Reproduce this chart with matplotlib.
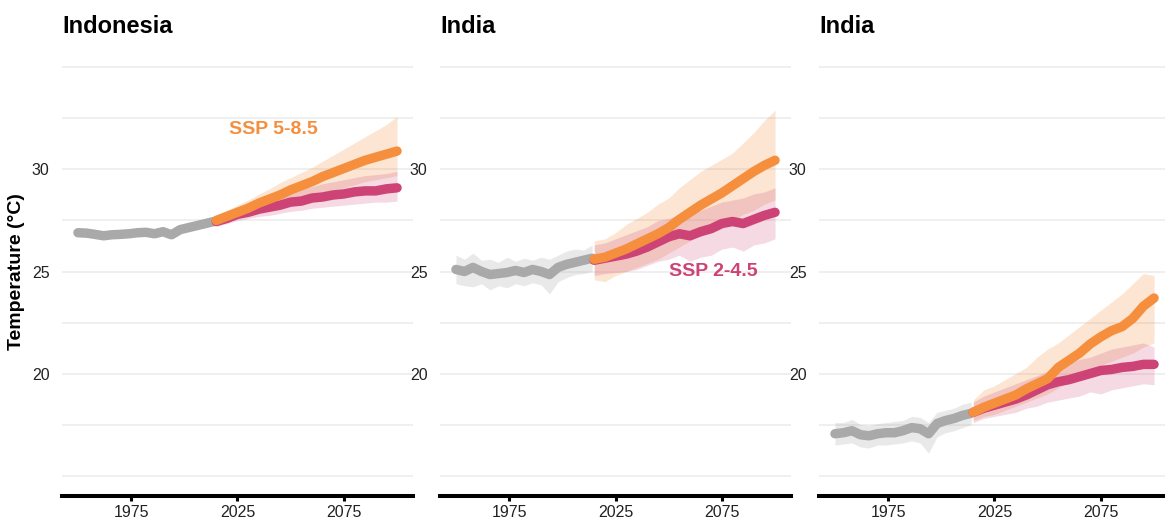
import numpy as np
import matplotlib
matplotlib.use("Agg")
from matplotlib import pyplot as plt

plt.rcParams['font.family'] = ['Liberation Sans', 'DejaVu Sans']

# years
hist_years = [1950, 1954, 1958, 1962, 1966, 1970, 1974, 1978, 1982,
              1986, 1990, 1994, 1998, 2002, 2006, 2010, 2014]
proj_years = [2015, 2020, 2025, 2030, 2035, 2040, 2045, 2050, 2055,
              2060, 2065, 2070, 2075, 2080, 2085, 2090, 2095, 2100]

titles = ["Indonesia", "India", "India"]

# panel 1 - Indonesia
idn_hist = [26.9, 26.88, 26.82, 26.75, 26.8, 26.82, 26.85, 26.9, 26.92,
            26.85, 26.95, 26.8, 27.05, 27.15, 27.25, 27.35, 27.45]
idn_hist_lo = [26.8, 26.78, 26.72, 26.65, 26.7, 26.72, 26.75, 26.8, 26.82,
               26.75, 26.85, 26.68, 26.95, 27.05, 27.15, 27.25, 27.35]
idn_hist_hi = [27.0, 26.98, 26.92, 26.85, 26.9, 26.92, 26.95, 27.0, 27.02,
               26.95, 27.05, 26.9, 27.15, 27.25, 27.35, 27.45, 27.55]
idn_245 = [27.45, 27.6, 27.8, 27.9, 28.05, 28.15, 28.25, 28.4, 28.45,
           28.6, 28.65, 28.75, 28.8, 28.9, 28.95, 28.95, 29.05, 29.1]
idn_245_lo = [27.2, 27.35, 27.5, 27.6, 27.7, 27.75, 27.85, 27.95, 28.0,
              28.1, 28.15, 28.2, 28.25, 28.3, 28.35, 28.4, 28.4, 28.45]
idn_245_hi = [27.7, 27.95, 28.1, 28.3, 28.45, 28.55, 28.75, 28.9, 29.05,
              29.15, 29.3, 29.4, 29.5, 29.6, 29.7, 29.75, 29.8, 29.9]
idn_585 = [27.5, 27.7, 27.9, 28.1, 28.35, 28.55, 28.75, 29.0, 29.2,
           29.4, 29.65, 29.85, 30.05, 30.25, 30.45, 30.6, 30.75, 30.9]
idn_585_lo = [27.3, 27.45, 27.6, 27.75, 27.9, 28.05, 28.2, 28.35, 28.5,
              28.65, 28.8, 28.95, 29.1, 29.25, 29.4, 29.5, 29.6, 29.7]
idn_585_hi = [27.75, 28.0, 28.25, 28.5, 28.8, 29.05, 29.35, 29.6, 29.85,
              30.1, 30.4, 30.7, 31.0, 31.3, 31.6, 31.9, 32.2, 32.6]

# panel 2 - India
ind_hist = [25.1, 25.0, 25.2, 25.0, 24.85, 24.9, 24.95, 25.05, 24.95,
            25.1, 25.0, 24.85, 25.2, 25.35, 25.45, 25.55, 25.65]
ind_hist_lo = [24.4, 24.3, 24.25, 24.4, 24.1, 24.3, 24.2, 24.4, 24.3,
               24.45, 24.35, 23.9, 24.5, 24.7, 24.85, 24.9, 25.0]
ind_hist_hi = [25.8, 25.6, 25.9, 25.55, 25.6, 25.45, 25.7, 25.5, 25.65,
               25.55, 25.7, 25.6, 25.8, 26.0, 26.1, 26.05, 26.3]
ind_245 = [25.55, 25.65, 25.75, 25.85, 26.0, 26.2, 26.45, 26.7, 26.85,
           26.75, 26.95, 27.1, 27.35, 27.45, 27.35, 27.55, 27.75, 27.9]
ind_245_lo = [24.8, 24.9, 24.95, 25.0, 25.1, 25.3, 25.5, 25.6, 25.8,
              25.5, 25.7, 25.8, 26.1, 26.2, 26.0, 26.3, 26.4, 26.6]
ind_245_hi = [26.3, 26.4, 26.6, 26.8, 27.0, 27.2, 27.5, 27.6, 27.8,
              27.9, 28.0, 28.2, 28.4, 28.5, 28.6, 28.8, 28.9, 29.1]
ind_585 = [25.6, 25.7, 25.9, 26.1, 26.35, 26.6, 26.85, 27.15, 27.55,
           27.9, 28.25, 28.55, 28.85, 29.2, 29.55, 29.9, 30.2, 30.45]
ind_585_lo = [24.6, 24.5, 24.8, 25.0, 25.2, 25.4, 25.6, 25.9, 26.2,
              26.5, 26.8, 27.0, 27.3, 27.5, 27.8, 28.0, 28.3, 28.5]
ind_585_hi = [26.5, 26.6, 26.9, 27.3, 27.6, 27.9, 28.3, 28.6, 29.1,
              29.5, 29.9, 30.2, 30.5, 30.8, 31.3, 31.8, 32.4, 32.9]

# panel 3 - India
ind2_hist = [17.05, 17.1, 17.2, 17.0, 16.95, 17.05, 17.1, 17.1, 17.2,
             17.35, 17.3, 17.05, 17.55, 17.7, 17.8, 17.95, 18.05]
ind2_hist_lo = [16.5, 16.55, 16.6, 16.4, 16.35, 16.5, 16.5, 16.55, 16.6,
                16.7, 16.6, 16.1, 16.9, 17.1, 17.2, 17.35, 17.5]
ind2_hist_hi = [17.6, 17.6, 17.75, 17.5, 17.45, 17.55, 17.6, 17.65, 17.7,
                17.9, 17.85, 17.6, 18.1, 18.2, 18.3, 18.5, 18.6]
ind2_245 = [18.1, 18.3, 18.45, 18.6, 18.75, 18.95, 19.2, 19.45, 19.6,
            19.7, 19.85, 20.0, 20.15, 20.2, 20.3, 20.35, 20.45, 20.45]
ind2_245_lo = [17.6, 17.8, 17.9, 18.0, 18.1, 18.3, 18.4, 18.6, 18.7,
               18.8, 18.9, 19.1, 19.0, 19.2, 19.3, 19.4, 19.5, 19.45]
ind2_245_hi = [18.6, 18.9, 19.1, 19.3, 19.5, 19.7, 19.9, 20.1, 20.4,
               20.5, 20.7, 20.8, 21.0, 21.2, 21.3, 21.4, 21.5, 21.3]
ind2_585 = [18.1, 18.35, 18.55, 18.75, 18.95, 19.25, 19.5, 19.75, 20.3,
            20.65, 21.0, 21.45, 21.8, 22.1, 22.3, 22.7, 23.3, 23.7]
ind2_585_lo = [17.7, 17.9, 18.0, 18.2, 18.4, 18.6, 18.8, 19.0, 19.3,
               19.6, 19.8, 20.1, 20.4, 20.6, 20.8, 21.0, 21.3, 21.5]
ind2_585_hi = [18.7, 19.2, 19.4, 19.7, 20.0, 20.3, 20.8, 21.2, 21.5,
               21.9, 22.3, 22.7, 23.1, 23.5, 23.9, 24.4, 24.9, 24.8]

panels = [
    (idn_hist, idn_hist_lo, idn_hist_hi, idn_245, idn_245_lo, idn_245_hi,
     idn_585, idn_585_lo, idn_585_hi),
    (ind_hist, ind_hist_lo, ind_hist_hi, ind_245, ind_245_lo, ind_245_hi,
     ind_585, ind_585_lo, ind_585_hi),
    (ind2_hist, ind2_hist_lo, ind2_hist_hi, ind2_245, ind2_245_lo, ind2_245_hi,
     ind2_585, ind2_585_lo, ind2_585_hi),
]

GRAY = "#a9a9a9"
ORANGE = "#f58f3e"
PINK = "#cd4376"

W, H = 1165, 521
fig = plt.figure(figsize=(W / 100, H / 100), dpi=100)

lefts = [62, 440, 819]
pw = 351
bottom, top = 496, 47

for i, p in enumerate(panels):
    hist, hlo, hhi, s245, s245lo, s245hi, s585, s585lo, s585hi = p
    ax = fig.add_axes([lefts[i] / W, (H - bottom) / H, pw / W, (bottom - top) / H])

    ax.fill_between(hist_years, hlo, hhi, color=GRAY, alpha=0.25, lw=0)
    ax.fill_between(proj_years, s585lo, s585hi, color=ORANGE, alpha=0.23, lw=0)
    ax.fill_between(proj_years, s245lo, s245hi, color=PINK, alpha=0.2, lw=0)

    kw = dict(lw=6.8, solid_capstyle='round', solid_joinstyle='round')
    ax.plot(hist_years, hist, color=GRAY, **kw)
    ax.plot(proj_years, s245, color=PINK, **kw)
    ax.plot(proj_years, s585, color=ORANGE, **kw)

    ax.set_xlim(1942.5, 2107.5)
    ax.set_ylim(14, 36)
    ax.set_xticks([1975, 2025, 2075])
    ax.set_yticks([20, 25, 30])
    ax.set_yticks([15, 17.5, 22.5, 27.5, 32.5, 35], minor=True)
    ax.grid(axis='y', which='both', color='#ebebeb', lw=1.1)
    ax.set_axisbelow(True)
    for s in ['top', 'right', 'left']:
        ax.spines[s].set_visible(False)
    ax.spines['bottom'].set_linewidth(2.9)
    ax.spines['bottom'].set_color('black')
    ax.tick_params(axis='x', length=3.5, width=2.2, color='black', labelsize=11.5,
                   labelcolor='#222222', pad=3)
    ax.tick_params(axis='y', which='both', length=0, labelsize=11.5,
                   labelcolor='#222222', pad=9)

    ax.text(0, 1.031, titles[i], transform=ax.transAxes, fontsize=17,
            fontweight='bold', va='baseline', ha='left')

    if i == 0:
        ax.set_ylabel("Temperature (°C)", fontsize=14, fontweight='bold', labelpad=5)
        ax.text(2041.7, 31.94, "SSP 5-8.5", color=ORANGE, fontsize=14,
                fontweight='bold', ha='center', va='center')
    if i == 1:
        ax.text(2071.2, 24.98, "SSP 2-4.5", color=PINK, fontsize=14,
                fontweight='bold', ha='center', va='center')

fig.savefig("out.png", dpi=100)
